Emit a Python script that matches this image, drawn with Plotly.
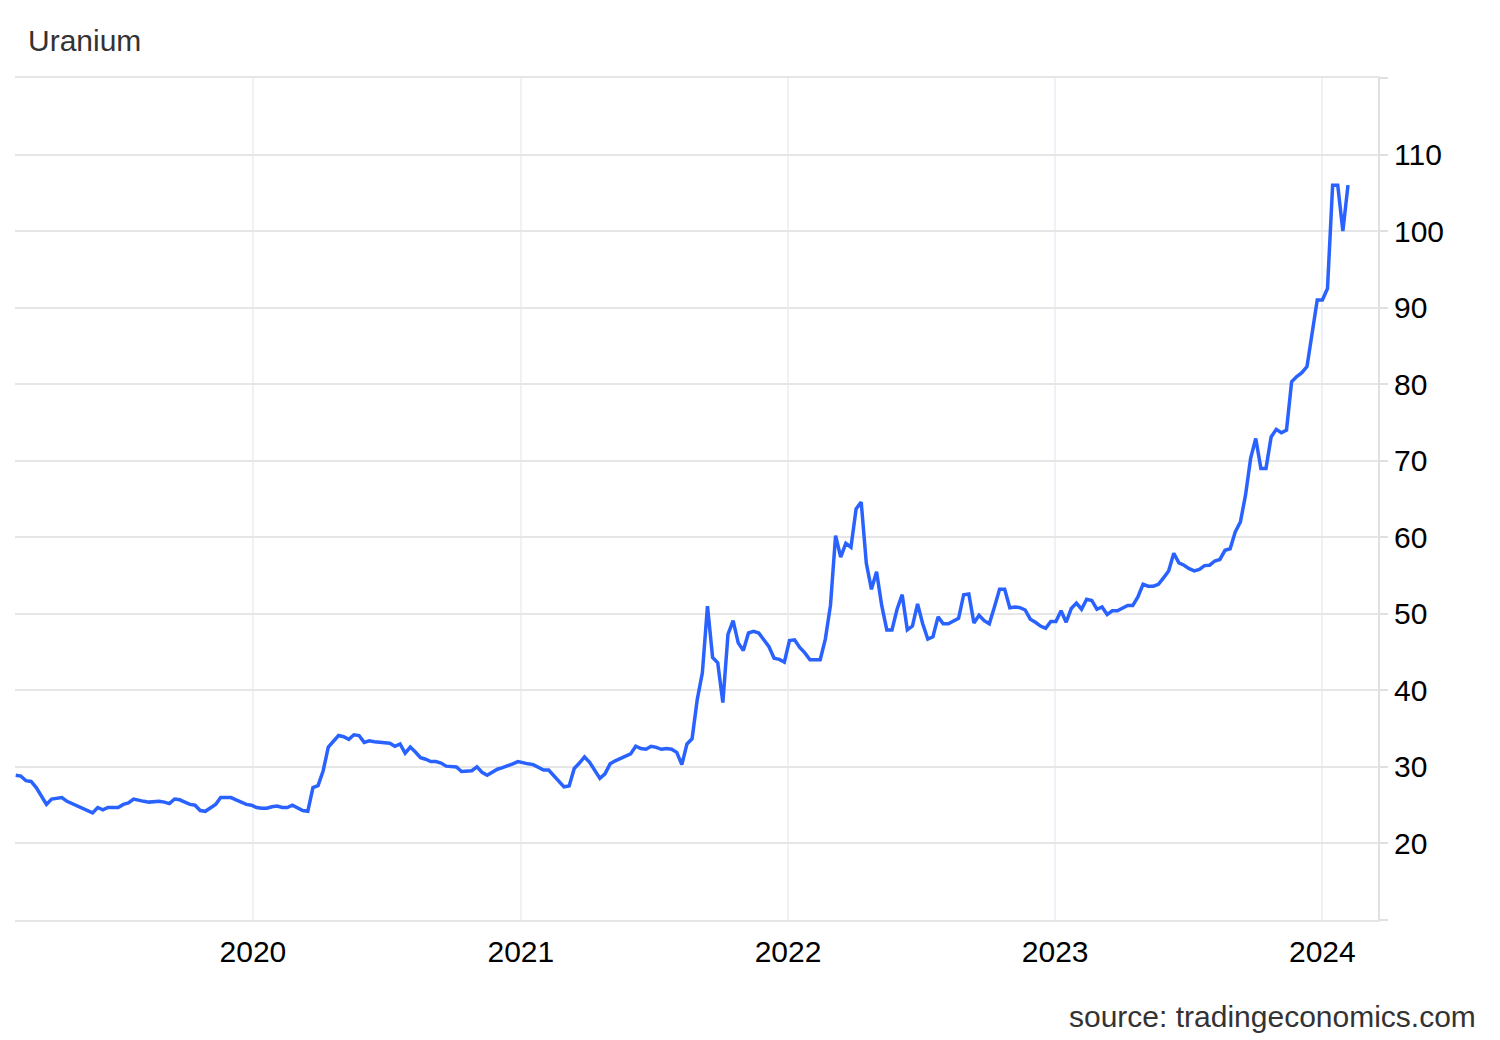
import pandas as pd
import plotly.graph_objects as go

start_date = "2019-02-11"
uranium_price = [
    28.9, 28.8, 28.2, 28.1, 27.3, 26.2, 25.1, 25.8, 25.9, 26.0,
    25.5, 25.2, 24.9, 24.7, 24.4, 24.0, 24.7, 24.4, 24.7, 24.75,
    24.7, 25.1, 25.3, 25.8, 25.6, 25.5, 25.4, 25.5, 25.5, 25.4,
    25.2, 25.8, 25.7, 25.4, 25.1, 25.0, 24.3, 24.2, 24.7, 25.1,
    26.0, 26.0, 26.0, 25.7, 25.4, 25.1, 25.0, 24.7, 24.6, 24.6,
    24.8, 24.9, 24.7, 24.7, 25.0, 24.6, 24.3, 24.2, 27.3, 27.55,
    29.5, 32.6, 33.3, 34.1, 33.95, 33.6, 34.2, 34.1, 33.2, 33.4,
    33.3, 33.2, 33.1, 33.1, 32.7, 33.0, 31.8, 32.6, 31.95, 31.2,
    31.0, 30.7, 30.7, 30.5, 30.1, 30.1, 30.0, 29.4, 29.4, 29.5,
    30.0, 29.3, 28.9, 29.3, 29.7, 29.9, 30.1, 30.4, 30.7, 30.5,
    30.4, 30.3, 30.0, 29.6, 29.6, 28.9, 28.1, 27.4, 27.5, 29.8,
    30.5, 31.3, 30.6, 29.5, 28.5, 29.1, 30.4, 30.8, 31.1, 31.3,
    31.7, 32.7, 32.4, 32.3, 32.7, 32.55, 32.3, 32.4, 32.3, 31.9,
    30.3, 33.0, 33.7, 38.8, 42.3, 51.0, 44.3, 43.6, 38.4, 47.3,
    49.1, 46.2, 45.2, 47.5, 47.7, 47.5, 46.5, 45.7, 44.2, 44.05,
    43.7, 46.5, 46.6, 45.6, 44.9, 44.0, 44.0, 44.0, 46.7, 51.1,
    60.2, 57.4, 59.2, 58.7, 63.7, 64.6, 56.6, 53.2, 55.5, 51.1,
    47.9, 47.9, 50.6, 52.5, 47.9, 48.4, 51.3, 48.7, 46.7, 47.0,
    49.6, 48.7, 48.7, 49.1, 49.4, 52.5, 52.6, 48.8, 49.8, 49.1,
    48.7, 50.9, 53.2, 53.2, 50.8, 50.9, 50.8, 50.5, 49.3, 48.9,
    48.4, 48.1, 49.0, 49.0, 50.4, 48.9, 50.7, 51.4, 50.6, 51.9,
    51.75, 50.6, 50.9, 49.9, 50.4, 50.4, 50.8, 51.1, 51.1, 52.2,
    53.85, 53.6, 53.6, 53.85, 54.7, 55.6, 57.9, 56.65, 56.35, 55.9,
    55.6, 55.8, 56.3, 56.35, 56.9, 57.1, 58.3, 58.5, 60.7, 62.0,
    65.5, 70.3, 72.9, 69.0, 69.0, 73.1, 74.1, 73.65, 74.0, 80.3,
    81.0, 81.5, 82.3, 86.4, 91.0, 91.0, 92.5, 106.0, 106.0, 100.0,
    106.0,
]
dates = pd.date_range(start_date, periods=len(uranium_price), freq="7D")

y_tick_values = [10, 20, 30, 40, 50, 60, 70, 80, 90, 100, 110, 120]
y_tick_labels = ["", "20", "30", "40", "50", "60", "70", "80", "90", "100", "110", ""]
x_tick_values = ["2020-01-01", "2021-01-01", "2022-01-01", "2023-01-01", "2024-01-01"]
x_tick_labels = ["2020", "2021", "2022", "2023", "2024"]

FONT = "Liberation Sans, Arial, sans-serif"
W, H = 1500, 1040
L, R, T, B = 7, 130, 70, 128

fig = go.Figure()
fig.add_trace(go.Scatter(
    x=dates, y=uranium_price, mode="lines",
    line=dict(color="#2962ff", width=3.5),
    hoverinfo="x+y", showlegend=False,
))

fig.update_layout(
    width=W, height=H,
    margin=dict(l=L, r=R, t=T, b=B),
    paper_bgcolor="white", plot_bgcolor="white",
    font=dict(family=FONT, size=30, color="#000000"),
    title=dict(text="Uranium", x=20 / W, xanchor="left", xref="container",
               y=1 - 32 / H, yanchor="middle", yref="container",
               font=dict(family=FONT, size=30, color="#333333")),
    xaxis=dict(
        type="date", range=["2019-02-10", "2024-03-17"],
        tickvals=x_tick_values, ticktext=x_tick_labels,
        showgrid=True, gridcolor="#eef1f5", gridwidth=1.5,
        showline=True, mirror=True, linecolor="#e6e6e6", linewidth=1.5,
        ticks="", ticklabelstandoff=4,
        tickfont=dict(family=FONT, size=30, color="#000000"),
        zeroline=False,
    ),
    yaxis=dict(
        side="right", range=[10, 120],
        tickvals=y_tick_values, ticktext=y_tick_labels,
        showgrid=True, gridcolor="#e6e6e6", gridwidth=1.5,
        showline=True, linecolor="#e0e0e0", linewidth=2,
        ticks="outside", ticklen=8, tickcolor="#e0e0e0", tickwidth=1.5,
        tickfont=dict(family=FONT, size=30, color="#000000"),
        zeroline=False,
    ),
)

plot_w = W - L - R
plot_h = H - T - B
fig.add_annotation(
    text="source: tradingeconomics.com", xref="paper", yref="paper",
    x=(1470 - L) / plot_w, xanchor="right",
    y=-(1008 - (H - B)) / plot_h, yanchor="middle",
    showarrow=False, font=dict(family=FONT, size=30, color="#333333"),
)

fig.write_html("out.html")
